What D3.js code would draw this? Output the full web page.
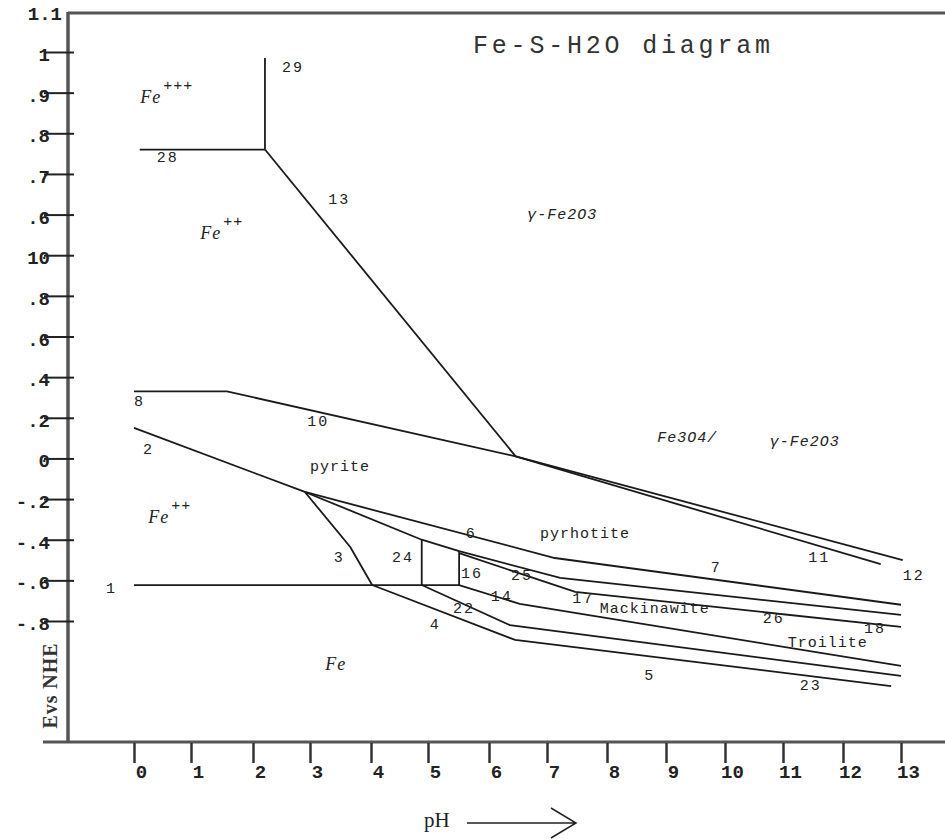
<!DOCTYPE html>
<html>
<head>
<meta charset="utf-8">
<script src="https://cdn.jsdelivr.net/npm/d3@7"></script>
<style>
  body { margin: 0; background: #fff; }
  svg { display: block; }
  .tick-lab { font-family: "Liberation Mono", monospace; font-weight: bold; font-size: 19px; fill: #222; }
  .ann { font-family: "Liberation Mono", monospace; font-size: 15px; fill: #222; letter-spacing: 2px; }
  .ann-it { font-family: "Liberation Serif", serif; font-style: italic; font-size: 18px; fill: #222; letter-spacing: 1px; }
</style>
</head>
<body>
<div id="chart"></div>
<script>

// ---- data ----
// pH ticks
var phTicks = [0, 1, 2, 3, 4, 5, 6, 7, 8, 9, 10, 11, 12, 13];
var phLabels = ["0", "1", "2", "3", "4", "5", "6", "7", "8", "9", "10", "11", "12", "13"];

// E ticks (the scanned axis labels are not consistent, kept as printed)
var eTicks = [-0.8, -0.6, -0.4, -0.2, 0, 0.2, 0.4, 0.6, 0.8, 1.0, 1.2, 1.4, 1.6, 1.8, 2.0, 2.2];
var eLabels = ["-.8", "-.6", "-.4", "-.2", "0", ".2", ".4", ".6", ".8", "10", ".6", ".7", ".8", ".9", "1", "1.1"];

// stability boundaries, [pH, E]
var line29 = [[2.21, 1.97], [2.21, 1.52]];
var line28 = [[0.1, 1.52], [2.21, 1.52]];
var line13 = [[2.21, 1.52], [6.46, 0.01]];
var line8 = [[0, 0.33], [1.58, 0.33], [6.46, 0.01], [13.03, -0.50]];
var line11 = [[6.46, 0.01], [12.65, -0.52]];
var line2 = [[0, 0.15], [2.91, -0.165]];
var line1 = [[0, -0.623], [5.51, -0.623]];
var line3 = [[2.91, -0.165], [3.66, -0.436], [4.02, -0.623]];
var line24 = [[4.89, -0.40], [4.89, -0.623]];
var line16 = [[5.51, -0.456], [5.51, -0.623]];
var line6 = [[2.91, -0.165], [7.13, -0.49], [13.0, -0.72]];
var line25 = [[2.91, -0.165], [4.89, -0.40], [5.51, -0.456], [7.22, -0.588], [13.0, -0.77]];
var line26 = [[5.51, -0.466], [7.47, -0.657], [13.0, -0.829]];
var line14 = [[5.51, -0.623], [6.53, -0.716], [13.0, -1.021]];
var line22 = [[4.89, -0.623], [6.36, -0.82], [13.0, -1.07]];
var line4 = [[4.02, -0.623], [6.45, -0.893], [12.83, -1.12]];

var boundaries = [line29, line28, line13, line8, line11, line2, line1, line3,
                  line24, line16, line6, line25, line26, line14, line22, line4];

// labels: text, pH, E (superscript charge where there is one)
var numLabels = [
  ["29", 2.51, 1.90], ["28", 0.40, 1.46], ["13", 3.30, 1.25], ["8", 0.0, 0.26],
  ["2", 0.16, 0.02], ["10", 2.95, 0.16], ["3", 3.39, -0.51], ["24", 4.37, -0.51],
  ["16", 5.54, -0.59], ["25", 6.38, -0.60], ["14", 6.03, -0.70], ["22", 5.41, -0.76],
  ["4", 5.03, -0.84], ["6", 5.62, -0.39], ["17", 7.42, -0.71], ["7", 9.76, -0.56],
  ["11", 11.42, -0.51], ["12", 13.03, -0.60], ["26", 10.65, -0.81], ["18", 12.36, -0.86],
  ["5", 8.63, -1.09], ["23", 11.28, -1.14], ["1", -0.49, -0.66]
];
var phaseLabels = [
  ["pyrite", 3.0, -0.06], ["pyrhotite", 6.88, -0.39], ["Mackinawite", 7.88, -0.76],
  ["Troilite", 11.08, -0.93]
];
var ionLabels = [
  ["Fe", "+++", 0.11, 1.75], ["Fe", "++", 1.15, 1.08], ["Fe", "++", 0.25, -0.32], ["Fe", "", 3.25, -1.04]
];
var oxideLabels = [
  ["γ-Fe2O3", 6.66, 1.18], ["Fe3O4/", 8.85, 0.08], ["γ-Fe2O3", 10.77, 0.06]
];

// ---- layout ----
var width = 945, height = 840;
var plotLeft = 68, plotTop = 13, plotBottom = 742;

var svg = d3.select("#chart").append("svg")
    .attr("width", width)
    .attr("height", height);

// the printed pH ticks are not evenly spaced
var x = d3.scaleLinear()
    .domain(phTicks)
    .range([134, 191, 253, 310, 371, 428, 489, 547, 607, 666, 725, 783, 843, 901]);

var y = d3.scaleLinear()
    .domain([-0.8, 2.0])
    .range([621, 52]);

// frame
svg.append("line")
    .attr("x1", plotLeft).attr("x2", width)
    .attr("y1", plotTop).attr("y2", plotTop)
    .attr("stroke", "#555").attr("stroke-width", 3);
svg.append("line")
    .attr("x1", 43).attr("x2", width)
    .attr("y1", plotBottom).attr("y2", plotBottom)
    .attr("stroke", "#555").attr("stroke-width", 3);
svg.append("line")
    .attr("x1", plotLeft).attr("x2", plotLeft)
    .attr("y1", plotTop - 1).attr("y2", plotBottom + 1)
    .attr("stroke", "#555").attr("stroke-width", 3.5);

// x axis
var xAxis = d3.axisBottom(x)
    .tickValues(phTicks)
    .tickSize(20)
    .tickFormat(function(d, i) { return phLabels[i]; });

var gx = svg.append("g")
    .attr("transform", "translate(0," + (plotBottom + 1) + ")")
    .call(xAxis);
gx.select(".domain").remove();
gx.selectAll(".tick line").attr("stroke", "#333").attr("stroke-width", 2.5);
gx.selectAll(".tick text")
    .attr("class", "tick-lab")
    .attr("x", 7)
    .attr("y", 35)
    .attr("dy", null);
gx.attr("font-size", null).attr("font-family", null);

// y axis
var yAxis = d3.axisLeft(y)
    .tickValues(eTicks)
    .tickSize(30)
    .tickFormat(function(d, i) { return eLabels[i]; });

var gy = svg.append("g")
    .attr("transform", "translate(" + (plotLeft + 6) + ",0)")
    .call(yAxis);
gy.select(".domain").remove();
gy.attr("font-size", null).attr("font-family", null);
gy.selectAll(".tick line")
    .attr("stroke", "#222").attr("stroke-width", 2)
    .style("display", function(d) { return d > 2.1 ? "none" : null; });
gy.selectAll(".tick text")
    .attr("class", "tick-lab")
    .attr("x", function(d) { return d > 2.1 ? -12 : -24; })
    .attr("dy", "0.45em");

// boundaries
var lineGen = d3.line()
    .x(function(d) { return x(d[0]); })
    .y(function(d) { return y(d[1]); });

svg.append("g")
    .selectAll("path")
    .data(boundaries)
    .enter().append("path")
    .attr("d", lineGen)
    .attr("fill", "none")
    .attr("stroke", "#1a1a1a")
    .attr("stroke-width", 1.8);

// labels
svg.append("g").selectAll("text")
    .data(numLabels)
    .enter().append("text")
    .attr("class", "ann")
    .attr("x", function(d) { return x(d[1]); })
    .attr("y", function(d) { return y(d[2]); })
    .text(function(d) { return d[0]; });

svg.append("g").selectAll("text")
    .data(phaseLabels)
    .enter().append("text")
    .attr("class", "ann")
    .style("letter-spacing", "1px")
    .attr("x", function(d) { return x(d[1]); })
    .attr("y", function(d) { return y(d[2]); })
    .text(function(d) { return d[0]; });

svg.append("g").selectAll("text")
    .data(oxideLabels)
    .enter().append("text")
    .attr("class", "ann")
    .style("font-style", "italic")
    .style("letter-spacing", "1px")
    .attr("x", function(d) { return x(d[1]); })
    .attr("y", function(d) { return y(d[2]); })
    .text(function(d) { return d[0]; });

var ions = svg.append("g").selectAll("text")
    .data(ionLabels)
    .enter().append("text")
    .attr("class", "ann-it")
    .attr("x", function(d) { return x(d[2]); })
    .attr("y", function(d) { return y(d[3]); });
ions.append("tspan").text(function(d) { return d[0]; });
ions.append("tspan")
    .attr("dy", -13)
    .attr("dx", 2)
    .style("font-style", "normal")
    .style("font-family", "Liberation Mono, monospace")
    .style("font-size", "15px")
    .style("letter-spacing", "1px")
    .text(function(d) { return d[1]; });

// title
svg.append("text")
    .attr("x", 473)
    .attr("y", 53)
    .attr("textLength", 297)
    .attr("lengthAdjust", "spacing")
    .style("font-family", "Liberation Mono, monospace")
    .style("font-size", "25px")
    .style("fill", "#333")
    .text("Fe-S-H2O diagram");

// axis titles
svg.append("text")
    .attr("transform", "translate(57,686) rotate(-90)")
    .attr("text-anchor", "middle")
    .attr("textLength", 85)
    .style("font-family", "Liberation Serif, serif")
    .style("font-weight", "bold")
    .style("font-size", "20px")
    .style("fill", "#333")
    .text("Evs NHE");

svg.append("text")
    .attr("x", 424)
    .attr("y", 827)
    .style("font-family", "Liberation Serif, serif")
    .style("font-size", "21px")
    .style("fill", "#222")
    .text("pH");

svg.append("path")
    .attr("d", "M467,823H576M551,808L576,823L551,838")
    .attr("fill", "none")
    .attr("stroke", "#222")
    .attr("stroke-width", 1.5);

</script>
</body>
</html>
